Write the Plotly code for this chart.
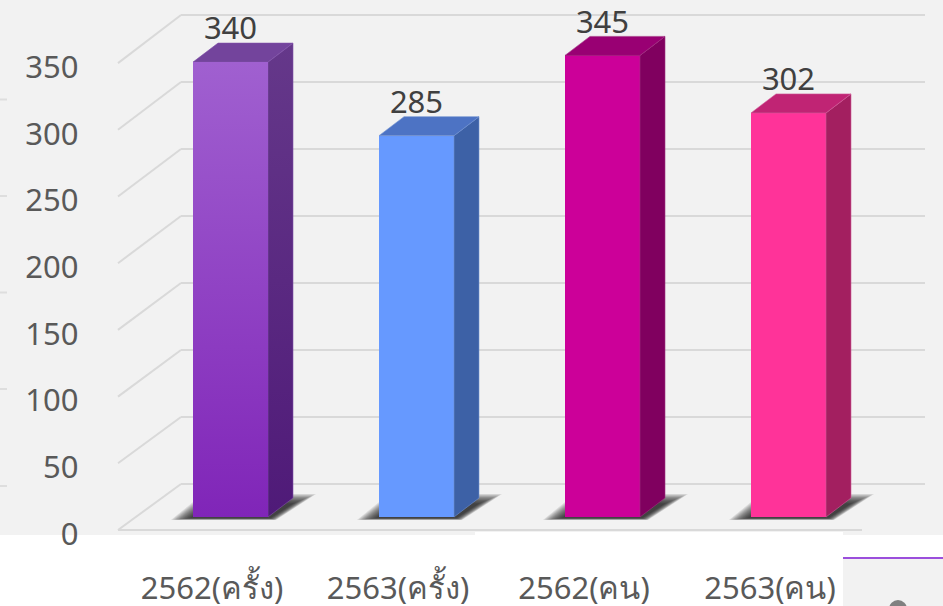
import plotly.graph_objects as go

categories = ["2562(ครั้ง)", "2563(ครั้ง)", "2562(คน)", "2563(คน)"]
values = [340, 285, 345, 302]
axis_ticks = [0, 50, 100, 150, 200, 250, 300, 350]
front_colors = ["#8f3cc6", "#6699ff", "#cc0099", "#ff3399"]
side_colors = ["#5a2685", "#3d61a6", "#80005f", "#a31f60"]
top_colors = ["#73449c", "#4d73c4", "#990073", "#c02474"]
edge_colors = ["#7f50a8", "#6f90d0", "#a03080", "#d05c98"]
edge_marks = [99.5, 196, 292.5, 389, 486]

W, H = 943, 606
X0, DX = 230.5, 186.0      # pixel centre of the first bar, pixels per category
Y0, DY = 517.0, 1.338      # pixel of the bars' base, pixels per unit
BAR_W = 75.0
DEPTH_X, DEPTH_Y = 25.0, 19.0
FONT = "Noto Sans"

x_range = [(0 - X0) / DX, (W - X0) / DX]
y_range = [(Y0 - H) / DY, Y0 / DY]


def dx(px):
    return px / DX


def dy(px):
    return px / DY


def to_x(px):
    return (px - X0) / DX


def to_y(px):
    return (Y0 - px) / DY


def px_x(px):
    return px / W


def px_y(py):
    return 1 - py / H


fig = go.Figure()
shapes = []


def rect(x0, y0, x1, y1, color):
    shapes.append(dict(type="rect", xref="paper", yref="paper", layer="below",
                       x0=px_x(x0), x1=px_x(x1), y0=px_y(y0), y1=px_y(y1),
                       fillcolor=color, line_width=0))


def path(points):
    return "M " + " L ".join(f"{a:.5f},{b:.5f}" for a, b in points) + " Z"


# page pieces around the chart
rect(0, 535, 475, H, "#ffffff")
rect(475, 532, 843, H, "#ffffff")
rect(843, 535, W, 558, "#ffffff")
rect(843, 557, W, 559, "#9b4fdc")
for y in edge_marks:
    rect(0, y - 1, 7, y + 1, "#dedede")
shapes.append(dict(type="circle", xref="paper", yref="paper", layer="below",
                   x0=px_x(889), x1=px_x(907), y0=px_y(618), y1=px_y(600),
                   fillcolor="#808080", line_width=0))

# 3D wall grid
GRID = "#d9d9d9"
for v in axis_ticks:
    back = 484 - 1.34 * v
    front = 530 - 1.334 * v
    shapes.append(dict(type="line", layer="below", xref="x", yref="y",
                       x0=to_x(118), y0=to_y(front), x1=to_x(181), y1=to_y(back),
                       line=dict(color=GRID, width=2)))
    shapes.append(dict(type="line", layer="below", xref="x", yref="y",
                       x0=to_x(181), y0=to_y(back), x1=to_x(925), y1=to_y(back),
                       line=dict(color=GRID, width=2)))
shapes.append(dict(type="line", layer="below", xref="x", yref="y",
                   x0=to_x(118), y0=to_y(530), x1=to_x(862), y1=to_y(530),
                   line=dict(color=GRID, width=2)))

# soft floor shadows
half = dx(BAR_W / 2)
for i in range(len(values)):
    for inset in range(14):
        k = inset * 1.5
        pts = [
            (i - half + dx(-22 + k), dy(-3 + 0.1 * k)),
            (i - half + dx(10 + k * 0.5), dy(23 - 0.5 * k)),
            (i + half + dx(48 - k * 1.2), dy(23 - 0.5 * k)),
            (i + half + dx(8 - k * 0.3), dy(-3 + 0.1 * k)),
        ]
        shapes.append(dict(type="path", layer="below", xref="x", yref="y",
                           path=path(pts), fillcolor="rgba(30,30,30,0.11)", line_width=0))

# front faces
fig.add_trace(go.Bar(x=list(range(len(values))), y=values, width=BAR_W / DX,
                     marker=dict(color=front_colors, line=dict(width=0)),
                     hoverinfo="skip", showlegend=False))

for i, v in enumerate(values):
    xl, xr = i - half, i + half
    ox, oy = dx(DEPTH_X), dy(DEPTH_Y)
    side = dict(x=[xr, xr + ox, xr + ox, xr, xr], y=[0, oy, v + oy, v, 0])
    top = dict(x=[xl, xl + ox, xr + ox, xr, xl], y=[v, v + oy, v + oy, v, v])
    side_style = dict(fillcolor=side_colors[i])
    if i == 0:
        side_style = dict(fillgradient=dict(type="vertical",
                                            colorscale=[[0, "#4f1a78"], [1, "#65388a"]]))
    fig.add_trace(go.Scatter(**side, mode="lines", fill="toself",
                             line=dict(color=edge_colors[i], width=0.6),
                             hoverinfo="skip", showlegend=False, **side_style))
    fig.add_trace(go.Scatter(**top, mode="lines", fill="toself", fillcolor=top_colors[i],
                             line=dict(color=edge_colors[i], width=0.6),
                             hoverinfo="skip", showlegend=False))
    if i == 0:
        fig.add_trace(go.Scatter(x=[xl, xr, xr, xl, xl], y=[0, 0, v, v, 0], mode="lines",
                                 fill="toself", line=dict(width=0),
                                 fillgradient=dict(type="vertical",
                                                   colorscale=[[0, "#8025b8"], [1, "#a060d0"]]),
                                 hoverinfo="skip", showlegend=False))

# value labels
fig.add_trace(go.Scatter(x=list(range(len(values))),
                         y=[v + dy(DEPTH_Y + 11.5) for v in values],
                         text=[str(v) for v in values], mode="text",
                         textposition="middle center",
                         textfont=dict(family=FONT, size=31, color="#404040"),
                         hoverinfo="skip", showlegend=False))

# carrier trace for the axes that hold the tick labels
fig.add_trace(go.Scatter(x=list(range(len(categories))), y=axis_ticks[:len(categories)],
                         xaxis="x2", yaxis="y2", mode="markers", marker=dict(opacity=0),
                         hoverinfo="skip", showlegend=False))

LABEL_SHIFT_X = 18.5
LABEL_Y0, LABEL_DY = 534.0, 1.334

fig.update_layout(
    width=W, height=H, autosize=False,
    margin=dict(l=0, r=0, t=0, b=0, pad=0),
    paper_bgcolor="#f2f2f2", plot_bgcolor="rgba(0,0,0,0)",
    shapes=shapes, showlegend=False, bargap=0,
    xaxis=dict(range=x_range, domain=[0, 1], visible=False, fixedrange=True, automargin=False),
    yaxis=dict(range=y_range, domain=[0, 1], visible=False, fixedrange=True, automargin=False),
    xaxis2=dict(range=[x_range[0] + LABEL_SHIFT_X / DX, x_range[1] + LABEL_SHIFT_X / DX],
                overlaying="x", anchor="free", position=px_y(567), side="bottom",
                automargin=False, tickangle=0,
                tickvals=list(range(len(categories))), ticktext=categories,
                showgrid=False, zeroline=False, showline=False, ticks="",
                tickfont=dict(family=FONT, size=31, color="#595959"), fixedrange=True),
    yaxis2=dict(range=[(LABEL_Y0 - H) / LABEL_DY, LABEL_Y0 / LABEL_DY],
                overlaying="y", anchor="free", position=px_x(78.5), side="left",
                automargin=False,
                tickvals=axis_ticks, ticktext=[str(t) for t in axis_ticks],
                showgrid=False, zeroline=False, showline=False, ticks="",
                tickfont=dict(family=FONT, size=31, color="#595959"), fixedrange=True),
)

fig.write_html("out.html", config=dict(displayModeBar=False),
               post_script="document.body.style.margin='0';document.body.style.background='#f2f2f2';")
